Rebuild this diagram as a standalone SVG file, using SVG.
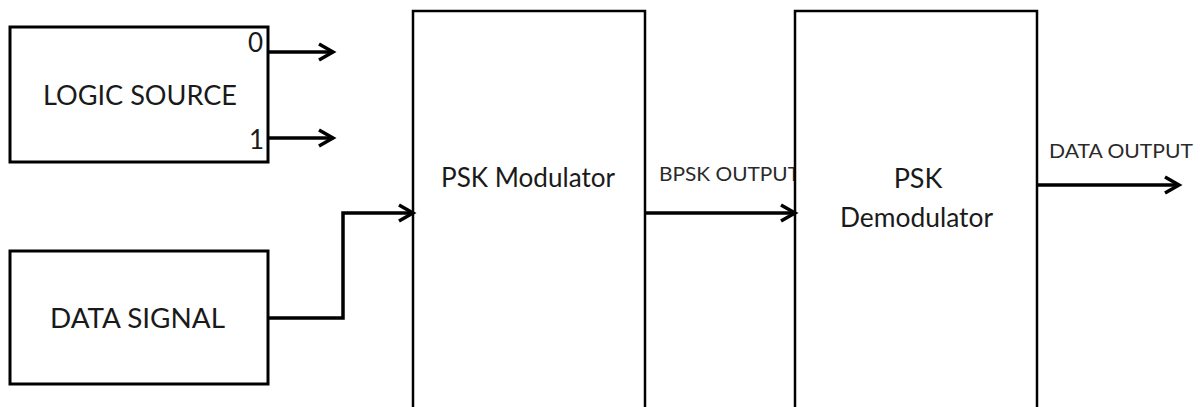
<svg xmlns="http://www.w3.org/2000/svg" width="1200" height="407" viewBox="0 0 1200 407">
  <style>
    .box { fill: #ffffff; stroke: #000000; stroke-width: 3; }
    .thin { fill: #ffffff; stroke: #000000; stroke-width: 2.5; }
    .lbl { font-family: Lato, "Liberation Sans", sans-serif; fill: #1a1a1a; }
    .big { font-size: 27px; }
    .small { font-size: 20px; fill: #2a2a2a; }
    .digit { font-size: 26px; }
    .wire { fill: none; stroke: #000000; stroke-width: 3.5; }
  </style>
  <defs>
    <marker id="arr" markerUnits="userSpaceOnUse" markerWidth="20" markerHeight="22" viewBox="0 0 20 22" refX="16" refY="11" orient="auto">
      <path d="M2,3 L16,11 L2,19" fill="none" stroke="#000000" stroke-width="3.5" stroke-linejoin="miter"/>
    </marker>
    <clipPath id="clipBpsk">
      <rect x="640" y="150" width="154" height="50"/>
    </clipPath>
  </defs>
  <rect x="0" y="0" width="1200" height="407" fill="#ffffff"/>

  <g id="logic-source">
    <rect class="box" x="10" y="27" width="258" height="135"/>
    <text class="lbl big" x="43" y="105" textLength="194" lengthAdjust="spacingAndGlyphs">LOGIC SOURCE</text>
    <text class="lbl digit" x="248" y="52">0</text>
    <text class="lbl digit" x="249" y="149">1</text>
  </g>

  <g id="data-signal">
    <rect class="box" x="10" y="251" width="258" height="133"/>
    <text class="lbl big" x="50" y="328" textLength="175" lengthAdjust="spacingAndGlyphs">DATA SIGNAL</text>
  </g>

  <g id="psk-modulator">
    <rect class="thin" x="413" y="11" width="232" height="420"/>
    <text class="lbl big" x="441" y="187" textLength="174" lengthAdjust="spacingAndGlyphs">PSK Modulator</text>
  </g>

  <g id="psk-demodulator">
    <rect class="thin" x="795" y="11" width="242" height="420"/>
    <text class="lbl big" x="918" y="188" text-anchor="middle">PSK</text>
    <text class="lbl big" x="840" y="227" textLength="153" lengthAdjust="spacingAndGlyphs">Demodulator</text>
  </g>

  <g id="connectors">
    <path class="wire" d="M268,52 H333" marker-end="url(#arr)"/>
    <path class="wire" d="M268,138 H333" marker-end="url(#arr)"/>
    <path class="wire" d="M268,318 H343 V213 H413" marker-end="url(#arr)"/>
    <path class="wire" d="M645,213 H795" marker-end="url(#arr)"/>
    <path class="wire" d="M1037,185 H1179" marker-end="url(#arr)"/>
    <text class="lbl small" x="659" y="181" textLength="141" lengthAdjust="spacingAndGlyphs" clip-path="url(#clipBpsk)">BPSK OUTPUT</text>
    <text class="lbl small" x="1049" y="158" textLength="144" lengthAdjust="spacingAndGlyphs">DATA OUTPUT</text>
  </g>
</svg>
